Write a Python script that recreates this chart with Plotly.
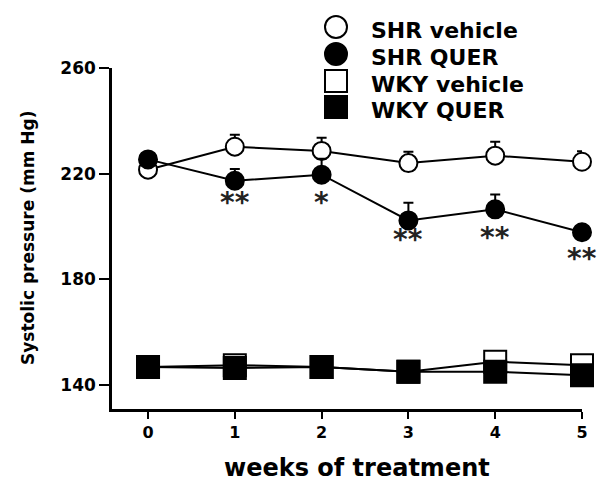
import plotly.graph_objects as go

# Weekly systolic pressure (mm Hg), mean with upper SEM
weeks = [0, 1, 2, 3, 4, 5]

shr_vehicle = [221.5, 230.2, 228.6, 224.0, 226.8, 224.5]
shr_vehicle_err = [2.0, 4.5, 5.0, 4.3, 5.3, 4.0]

shr_quer = [225.4, 217.3, 219.6, 202.3, 206.5, 197.8]
shr_quer_err = [2.0, 4.5, 6.0, 6.7, 5.6, 2.0]

wky_vehicle = [146.8, 147.5, 146.8, 145.0, 148.8, 147.5]
wky_quer = [146.8, 146.4, 146.8, 145.0, 145.0, 143.7]

# Significance marks under the SHR QUER series
sig_weeks = [1, 2, 3, 4, 5]
sig_y = [209.0, 209.0, 195.2, 196.0, 188.0]
sig_text = ["**", "*", "**", "**", "**"]

y_ticks = [140, 180, 220, 260]
legend_names = ["SHR vehicle", "SHR QUER", "WKY vehicle", "WKY QUER"]

W, H = 599, 481
FONT = "DejaVu Sans"
BLACK = "black"


def bold(size, color=BLACK):
    return dict(family=FONT, size=size, color=color, weight="bold")


fig = go.Figure()


def series(y, symbol, fill, size, err=None):
    kw = {}
    if err is not None:
        kw["error_y"] = dict(
            type="data", symmetric=False, array=err,
            arrayminus=[0] * len(err), color=BLACK, thickness=2, width=5,
        )
    fig.add_trace(go.Scatter(
        x=weeks, y=y, mode="lines+markers",
        line=dict(color=BLACK, width=2),
        marker=dict(symbol=symbol, size=size, color=fill,
                    line=dict(color=BLACK, width=2)),
        cliponaxis=False, showlegend=False, **kw,
    ))


series(wky_vehicle, "square", "white", 22)
series(wky_quer, "square", BLACK, 22)
series(shr_vehicle, "circle", "white", 18, shr_vehicle_err)
series(shr_quer, "circle", BLACK, 18, shr_quer_err)

for xw, yv, t in zip(sig_weeks, sig_y, sig_text):
    fig.add_annotation(x=xw, y=yv, text=t, showarrow=False,
                       font=bold(28, "#222"),
                       xanchor="center", yanchor="middle")

# Key in the upper right, placed on a hidden full-figure pixel axis pair
key_symbols = [("circle", "white"), ("circle", BLACK),
               ("square", "white"), ("square", BLACK)]
key_rows = [27, 54, 81, 107]
for (sym, fill), row, name in zip(key_symbols, key_rows, legend_names):
    fig.add_trace(go.Scatter(
        x=[336], y=[row], mode="markers", xaxis="x2", yaxis="y2",
        marker=dict(symbol=sym, size=22, color=fill,
                    line=dict(color=BLACK, width=2)),
        cliponaxis=False, showlegend=False, hoverinfo="skip",
    ))
    fig.add_annotation(x=369, y=row + 3, xref="x2", yref="y2", text=name,
                       showarrow=False, xanchor="left", yanchor="middle",
                       font=bold(22))

# Axis titles
fig.add_annotation(x=28, y=238, xref="x2", yref="y2",
                   text="Systolic pressure (mm Hg)", textangle=-90,
                   showarrow=False, font=bold(17))
fig.add_annotation(x=357, y=468, xref="x2", yref="y2",
                   text="weeks of treatment", showarrow=False, font=bold(24))

# Plot area: x from 112 px to 582 px, y from 68 px to 409 px
fig.update_layout(
    width=W, height=H,
    margin=dict(l=0, r=0, t=0, b=0, autoexpand=False),
    paper_bgcolor="white", plot_bgcolor="rgba(0,0,0,0)",
    xaxis=dict(
        domain=[112 / W, 582 / W], anchor="y", automargin=False,
        range=[-0.415, 5.0], tickvals=weeks, ticks="outside", ticklen=7,
        tickwidth=2, tickcolor=BLACK, showline=True, linecolor=BLACK,
        linewidth=2.5, showgrid=False, zeroline=False,
        tickfont=bold(16),
    ),
    yaxis=dict(
        domain=[(H - 409) / H, (H - 68) / H], anchor="x", automargin=False,
        range=[130.9, 260], tickvals=y_ticks, ticks="outside", ticklen=10,
        tickwidth=2, tickcolor=BLACK, showline=True, linecolor=BLACK,
        linewidth=2.5, showgrid=False, zeroline=False,
        tickfont=bold(17),
    ),
    xaxis2=dict(domain=[0, 1], anchor="y2", range=[0, W], visible=False),
    yaxis2=dict(domain=[0, 1], anchor="x2", range=[H, 0], visible=False),
)

fig.write_html("out.html")
